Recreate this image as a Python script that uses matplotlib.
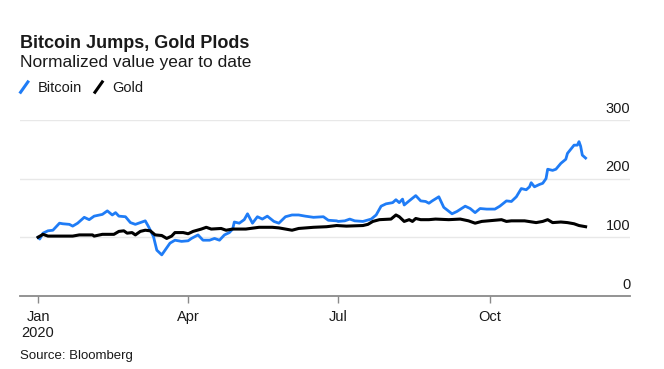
import numpy as np
import pandas as pd
import matplotlib
matplotlib.use("Agg")
import matplotlib.pyplot as plt
import matplotlib.dates as mdates
from matplotlib.lines import Line2D

plt.rcParams["font.family"] = ["Liberation Sans", "DejaVu Sans"]

# --- data ---
btc_dates = [
    "2020-01-01", "2020-01-02", "2020-01-04", "2020-01-07", "2020-01-10", "2020-01-14",
    "2020-01-16", "2020-01-20", "2020-01-22", "2020-01-25", "2020-01-29", "2020-02-01",
    "2020-02-04", "2020-02-09", "2020-02-12", "2020-02-15", "2020-02-17", "2020-02-19",
    "2020-02-23", "2020-02-26", "2020-02-29", "2020-03-03", "2020-03-06", "2020-03-08",
    "2020-03-11", "2020-03-13", "2020-03-16", "2020-03-18", "2020-03-21", "2020-03-24",
    "2020-03-28", "2020-04-01", "2020-04-03", "2020-04-07", "2020-04-10", "2020-04-14",
    "2020-04-17", "2020-04-20", "2020-04-23", "2020-04-26", "2020-04-28", "2020-04-29",
    "2020-05-02", "2020-05-05", "2020-05-07", "2020-05-10", "2020-05-13", "2020-05-16",
    "2020-05-19", "2020-05-23", "2020-05-26", "2020-05-30", "2020-06-03", "2020-06-07",
    "2020-06-11", "2020-06-16", "2020-06-22", "2020-06-25", "2020-06-30", "2020-07-01",
    "2020-07-05", "2020-07-08", "2020-07-11", "2020-07-16", "2020-07-21", "2020-07-24",
    "2020-07-27", "2020-07-30", "2020-08-03", "2020-08-05", "2020-08-07", "2020-08-09",
    "2020-08-10", "2020-08-13", "2020-08-17", "2020-08-20", "2020-08-23", "2020-08-25",
    "2020-08-27", "2020-08-31", "2020-09-03", "2020-09-08", "2020-09-11", "2020-09-16",
    "2020-09-19", "2020-09-22", "2020-09-25", "2020-09-29", "2020-10-04", "2020-10-07",
    "2020-10-11", "2020-10-14", "2020-10-17", "2020-10-20", "2020-10-23", "2020-10-25",
    "2020-10-26", "2020-10-28", "2020-10-31", "2020-11-02", "2020-11-04", "2020-11-05",
    "2020-11-08", "2020-11-10", "2020-11-13", "2020-11-16", "2020-11-17", "2020-11-19",
    "2020-11-21", "2020-11-23", "2020-11-24", "2020-11-25", "2020-11-26", "2020-11-28",
]
btc_values = [
    100, 97, 107, 111, 112, 124,
    123, 122, 119, 124, 134, 130,
    136, 139, 145, 138, 142, 136,
    135, 125, 122, 125, 128, 118,
    101, 78, 70, 78, 90, 95,
    93, 94, 98, 104, 95, 95,
    98, 95, 104, 108, 114, 126,
    124, 130, 140, 124, 135, 131,
    136, 127, 124, 135, 138, 138,
    136, 134, 135, 129, 128, 127,
    128, 131, 128, 127, 131, 138,
    153, 157, 159, 164, 159, 165,
    155, 162, 171, 162, 161, 158,
    162, 169, 151, 140, 144, 153,
    149, 142, 149, 148, 148, 153,
    162, 161, 169, 183, 181, 186,
    193, 186, 190, 192, 200, 216,
    214, 216, 226, 233, 243, 250,
    257, 257, 263, 255, 240, 235,
]

gold_dates = [
    "2020-01-01", "2020-01-04", "2020-01-07", "2020-01-12", "2020-01-22", "2020-01-26",
    "2020-02-03", "2020-02-04", "2020-02-09", "2020-02-16", "2020-02-19", "2020-02-22",
    "2020-02-24", "2020-02-27", "2020-02-29", "2020-03-03", "2020-03-06", "2020-03-09",
    "2020-03-12", "2020-03-16", "2020-03-19", "2020-03-22", "2020-03-24", "2020-03-29",
    "2020-04-01", "2020-04-04", "2020-04-09", "2020-04-12", "2020-04-15", "2020-04-21",
    "2020-04-24", "2020-04-28", "2020-05-06", "2020-05-14", "2020-05-22", "2020-05-26",
    "2020-06-03", "2020-06-07", "2020-06-16", "2020-06-24", "2020-06-30", "2020-07-06",
    "2020-07-16", "2020-07-19", "2020-07-22", "2020-07-26", "2020-08-02", "2020-08-05",
    "2020-08-07", "2020-08-10", "2020-08-13", "2020-08-15", "2020-08-17", "2020-08-20",
    "2020-08-25", "2020-08-29", "2020-09-06", "2020-09-13", "2020-09-18", "2020-09-22",
    "2020-09-26", "2020-09-30", "2020-10-08", "2020-10-11", "2020-10-14", "2020-10-22",
    "2020-10-29", "2020-11-02", "2020-11-05", "2020-11-08", "2020-11-13", "2020-11-17",
    "2020-11-21", "2020-11-24", "2020-11-28",
]
gold_values = [
    100, 105, 102, 102, 102, 104,
    104, 102, 105, 105, 110, 111,
    107, 108, 104, 110, 112, 111,
    104, 103, 98, 102, 108, 108,
    106, 110, 114, 117, 114, 115,
    112, 114, 114, 117, 117, 116,
    112, 115, 117, 118, 120, 119,
    120, 122, 127, 130, 131, 138,
    135, 127, 130, 127, 132, 130,
    130, 131, 130, 131, 128, 124,
    127, 128, 130, 127, 128, 128,
    125, 127, 130, 125, 126, 125,
    123, 120, 118,
]

y_ticks = [0, 100, 200, 300]
x_ticks = ["2020-01-01", "2020-04-01", "2020-07-01", "2020-10-01"]
x_labels = ["Jan\n2020", "Apr", "Jul", "Oct"]

BLUE = "#1f7cf6"
GRID = "#e8e8e8"
AXIS = "#8a8a8a"
TEXT = "#1a1a1a"

fig = plt.figure(figsize=(6.64, 3.69), dpi=100)
ax = fig.add_axes([0.030, 0.198, 0.919, 0.477])

ax.plot(pd.to_datetime(btc_dates), btc_values, color=BLUE, lw=2.0, zorder=3,
        solid_joinstyle="round")
ax.plot(pd.to_datetime(gold_dates), gold_values, color="black", lw=2.2, zorder=4,
        solid_joinstyle="round")

ax.set_ylim(0, 300)
ax.set_xlim(pd.Timestamp("2019-12-21"), pd.Timestamp("2020-12-25"))

for s in ["top", "right", "left"]:
    ax.spines[s].set_visible(False)
ax.spines["bottom"].set_color(AXIS)
ax.spines["bottom"].set_linewidth(1.3)

for v in y_ticks[1:]:
    ax.axhline(v, color=GRID, lw=1.0, zorder=1)
ax.set_yticks([])
for v in y_ticks:
    ax.text(1.0, v + 7, str(v), transform=ax.get_yaxis_transform(), ha="right",
            va="bottom", fontsize=10.5, color=TEXT)

ax.set_xticks(pd.to_datetime(x_ticks))
ax.set_xticklabels(x_labels, fontsize=10.5, color=TEXT, linespacing=1.2)
ax.tick_params(axis="x", length=5, width=1.0, color=AXIS, pad=5)
ax.tick_params(axis="y", length=0)

# header
fig.text(0.030, 0.883, "Bitcoin Jumps, Gold Plods", fontsize=13, fontweight="bold",
         color=TEXT, ha="left", va="center")
fig.text(0.030, 0.830, "Normalized value year to date", fontsize=12.5, color=TEXT,
         ha="left", va="center")

# legend with slanted strokes
fig.add_artist(Line2D([0.031, 0.042], [0.750, 0.778], color=BLUE, lw=2.2,
                      transform=fig.transFigure))
fig.text(0.057, 0.762, "Bitcoin", fontsize=10.5, color=TEXT, ha="left", va="center")
fig.add_artist(Line2D([0.143, 0.154], [0.750, 0.778], color="black", lw=2.2,
                      transform=fig.transFigure))
fig.text(0.169, 0.762, "Gold", fontsize=10.5, color=TEXT, ha="left", va="center")

fig.text(0.030, 0.035, "Source: Bloomberg", fontsize=9.5, color=TEXT, ha="left",
         va="center")

fig.savefig("out.png", dpi=100)
